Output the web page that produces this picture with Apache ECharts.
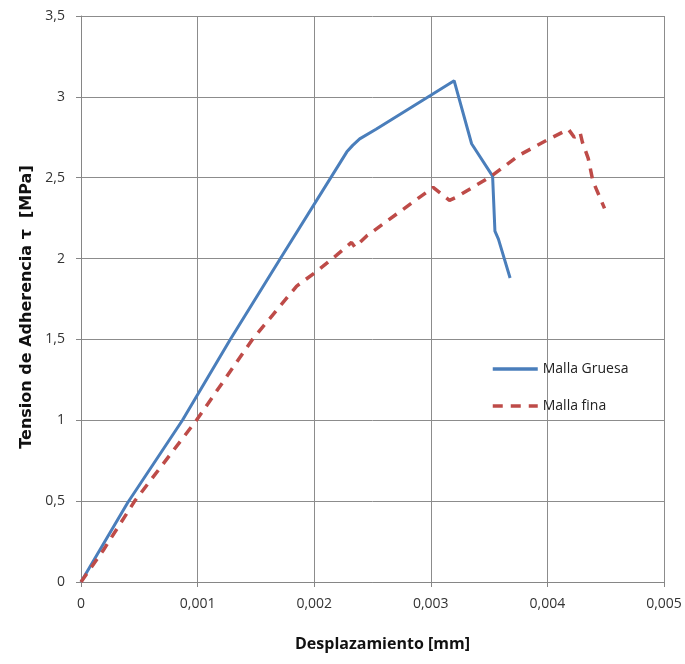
<!DOCTYPE html>
<html>
<head>
<meta charset="utf-8">
<script src="https://cdn.jsdelivr.net/npm/echarts@6/dist/echarts.min.js"></script>
<style>
  html, body { margin: 0; padding: 0; background: #fff; }
  #chart { width: 685px; height: 664px; }
</style>
</head>
<body>
<div id="chart"></div>
<script>
// datos
const gruesaX = [0, 0.0004, 0.00087, 0.00128, 0.00171, 0.00228, 0.00233, 0.00239, 0.00253, 0.0030, 0.0032, 0.00335, 0.00353, 0.00355, 0.00358, 0.00368]
const gruesaY = [0, 0.49, 1.0, 1.5, 2.0, 2.66, 2.70, 2.74, 2.80, 3.01, 3.10, 2.71, 2.51, 2.17, 2.12, 1.88]

const finaX = [0, 0.00019, 0.00046, 0.00099, 0.00147, 0.0017, 0.00185, 0.00202, 0.00219, 0.00232, 0.00235, 0.00245, 0.00302, 0.00316, 0.00322, 0.00352, 0.00376, 0.00399, 0.00418, 0.00423, 0.00428, 0.0043, 0.00435, 0.00439, 0.00449]
const finaY = [0, 0.195, 0.5, 1.0, 1.5, 1.70, 1.83, 1.92, 2.02, 2.10, 2.07, 2.14, 2.44, 2.36, 2.38, 2.51, 2.64, 2.73, 2.80, 2.75, 2.78, 2.72, 2.62, 2.48, 2.31]

const seriesNames = ['Malla Gruesa', 'Malla fina']

const zip = (xs, ys) => xs.map((x, i) => [x, ys[i]])
const comma = v => String(v).replace('.', ',')

const font = "'Open Sans', 'Liberation Sans', sans-serif"

const chart = echarts.init(document.getElementById('chart'))
chart.setOption({
  animation: false,
  backgroundColor: '#fff',
  grid: {
    left: 81,
    right: 21,
    top: 16,
    bottom: 82,
    outerBoundsMode: 'none'
  },
  legend: {
    orient: 'vertical',
    left: 486,
    top: 357,
    itemWidth: 45,
    itemHeight: 14,
    itemGap: 23,
    itemStyle: { opacity: 0 },
    lineStyle: { width: 3.5 },
    textStyle: { fontFamily: font, fontSize: 14, color: '#222' },
    data: seriesNames
  },
  xAxis: {
    type: 'value',
    min: 0,
    max: 0.005,
    interval: 0.001,
    name: 'Desplazamiento [mm]',
    nameLocation: 'middle',
    nameGap: 54,
    nameTextStyle: { fontFamily: font, fontSize: 16, fontWeight: 'bold', color: '#111', padding: [0, 0, 0, 20] },
    axisLine: { lineStyle: { color: '#868686' } },
    axisTick: { show: true, length: 5, lineStyle: { color: '#868686' } },
    axisLabel: {
      margin: 15,
      fontFamily: font,
      fontSize: 14,
      color: '#333',
      formatter: v => comma(+v.toFixed(3))
    },
    splitLine: { lineStyle: { color: '#8c8c8c', width: 1 } }
  },
  yAxis: {
    type: 'value',
    min: 0,
    max: 3.5,
    interval: 0.5,
    name: 'Tension de Adherencia τ  [MPa]',
    nameLocation: 'middle',
    nameGap: 44,
    nameTextStyle: { fontFamily: "'DejaVu Sans', sans-serif", fontSize: 16, fontWeight: 'bold', color: '#111', padding: [0, 16, 0, 0] },
    axisLine: { show: true, lineStyle: { color: '#868686' } },
    axisTick: { show: true, length: 5, lineStyle: { color: '#868686' } },
    axisLabel: {
      margin: 16,
      fontFamily: font,
      fontSize: 14,
      color: '#333',
      formatter: v => comma(+v.toFixed(1))
    },
    splitLine: { lineStyle: { color: '#8c8c8c', width: 1 } }
  },
  series: [
    {
      name: seriesNames[0],
      type: 'line',
      symbol: 'none',
      data: zip(gruesaX, gruesaY),
      lineStyle: { color: '#4a7ebb', width: 3 },
      itemStyle: { color: '#4a7ebb' }
    },
    {
      name: seriesNames[1],
      type: 'line',
      symbol: 'none',
      data: zip(finaX, finaY),
      lineStyle: { color: '#be4b48', width: 3.5, type: [10, 8] },
      itemStyle: { color: '#be4b48' }
    }
  ]
})
</script>
</body>
</html>
